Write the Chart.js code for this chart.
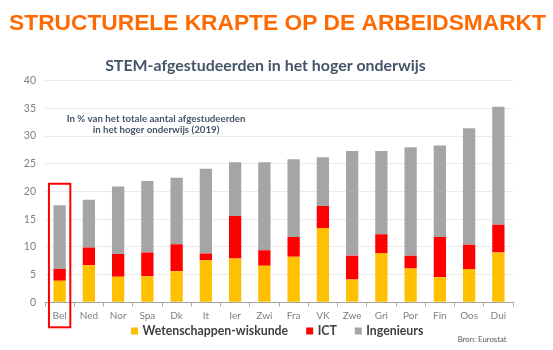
<!DOCTYPE html>
<html>
<head>
<meta charset="utf-8">
<script src="https://cdn.jsdelivr.net/npm/chart.js@4/dist/chart.umd.min.js"></script>
<style>
  html, body { margin: 0; padding: 0; background: #ffffff; }
  #wrap { position: relative; width: 553px; height: 350px; }
</style>
</head>
<body>
<div id="wrap"><canvas id="c" width="553" height="350"></canvas></div>
<script>
const mainTitle = 'STRUCTURELE KRAPTE OP DE ARBEIDSMARKT';
const chartTitle = 'STEM-afgestudeerden in het hoger onderwijs';
const noteLines = ['In % van het totale aantal afgestudeerden', 'in het hoger onderwijs (2019)'];
const sourceText = 'Bron: Eurostat';

const categories = ['Bel','Ned','Nor','Spa','Dk','It','Ier','Zwi','Fra','VK','Zwe','Gri','Por','Fin','Oos','Dui'];
const seriesNames = ['Wetenschappen-wiskunde', 'ICT', 'Ingenieurs'];
const wetenschappen = [3.9, 6.7, 4.6, 4.7, 5.6, 7.6, 7.9, 6.6, 8.2, 13.4, 4.1, 8.9, 6.1, 4.5, 6.0, 9.0];
const ict           = [2.1, 3.2, 4.1, 4.3, 4.9, 1.2, 7.7, 2.8, 3.6, 4.0, 4.3, 3.4, 2.3, 7.3, 4.4, 5.0];
const ingenieurs    = [11.5, 8.6, 12.2, 12.9, 12.0, 15.3, 9.7, 15.9, 14.0, 8.8, 18.9, 15.0, 19.6, 16.5, 21.0, 21.3];
const yMin = 0, yMax = 40, yStep = 5;
const highlightCategory = 'Bel';
const highlightTop = 21.4;

const colors = ['#FFC000', '#FF0000', '#A5A5A5'];

function fitSize(ctx, text, weight, family, target, guess) {
  ctx.font = weight + ' ' + guess + 'px ' + family;
  const w = ctx.measureText(text).width;
  return guess * target / w;
}

const textPlugin = {
  id: 'texts',
  afterDraw(chart) {
    const ctx = chart.ctx;
    ctx.save();
    // main orange header
    let s = fitSize(ctx, mainTitle, 'bold', '"Liberation Sans", Arial, sans-serif', 537, 22);
    ctx.font = 'bold ' + s + 'px "Liberation Sans", Arial, sans-serif';
    ctx.fillStyle = '#FF6A00';
    ctx.textAlign = 'center';
    ctx.textBaseline = 'alphabetic';
    ctx.fillText(mainTitle, 277.5, 30);

    // chart title
    s = fitSize(ctx, chartTitle, 'bold', 'Lato, sans-serif', 321, 14);
    ctx.font = 'bold ' + s + 'px Lato, sans-serif';
    ctx.fillStyle = '#44546A';
    ctx.fillText(chartTitle, 265.5, 70.7);

    // note
    s = fitSize(ctx, noteLines[0], 'bold', 'Lato, sans-serif', 179, 9);
    ctx.font = 'bold ' + s + 'px Lato, sans-serif';
    ctx.fillStyle = '#44546A';
    ctx.fillText(noteLines[0], 156, 122.3);
    ctx.fillText(noteLines[1], 156, 132.6);

    // legend
    s = fitSize(ctx, 'Ingenieurs', 'bold', 'Lato, sans-serif', 57, 13);
    ctx.font = 'bold ' + s + 'px Lato, sans-serif';
    ctx.textAlign = 'left';
    let x = 131;
    chart.data.datasets.forEach((ds, i) => {
      ctx.fillStyle = ds.backgroundColor;
      ctx.fillRect(x, 327.5, 7, 7);
      x += 7 + 4.5;
      ctx.fillStyle = '#404040';
      ctx.fillText(ds.label, x, 334.5);
      x += ctx.measureText(ds.label).width + 18;
    });

    // source
    s = fitSize(ctx, sourceText, 'normal', 'Lato, sans-serif', 49, 9);
    ctx.font = s + 'px Lato, sans-serif';
    ctx.fillStyle = '#595959';
    ctx.fillText(sourceText, 457.7, 342.3);

    // highlight box around Belgium
    const xs = chart.scales.x, ys = chart.scales.y;
    const idx = categories.indexOf(highlightCategory);
    const cx = xs.getPixelForValue(idx);
    const cw = (xs.right - xs.left) / categories.length;
    const left = cx - cw * 0.365, right = cx + cw * 0.365;
    const top = ys.getPixelForValue(highlightTop);
    const bottom = ys.bottom + 25;
    ctx.strokeStyle = '#FF0000';
    ctx.lineWidth = 2;
    ctx.strokeRect(left, top, right - left, bottom - top);
    ctx.restore();
  }
};

new Chart(document.getElementById('c'), {
  type: 'bar',
  data: {
    labels: categories,
    datasets: [
      { label: seriesNames[0], data: wetenschappen, backgroundColor: colors[0] },
      { label: seriesNames[1], data: ict, backgroundColor: colors[1] },
      { label: seriesNames[2], data: ingenieurs, backgroundColor: colors[2] }
    ]
  },
  options: {
    responsive: false,
    animation: false,
    devicePixelRatio: 1,
    layout: { padding: { left: 0, right: 40, top: 80.7, bottom: 27.7 } },
    datasets: { bar: { categoryPercentage: 1, barPercentage: 0.42, borderWidth: 0 } },
    plugins: {
      legend: { display: false },
      title: { display: false },
      tooltip: { enabled: false }
    },
    scales: {
      x: {
        stacked: true,
        afterFit(scale) { scale.height = 20; },
        grid: { offset: true, drawOnChartArea: false, drawTicks: true, tickLength: 4, color: '#A6A6A6' },
        border: { display: true, color: '#A6A6A6', width: 1 },
        ticks: { color: '#7F7F7F', font: { family: 'Lato, sans-serif', size: 10 }, padding: 3, maxRotation: 0, autoSkip: false }
      },
      y: {
        stacked: true,
        min: yMin, max: yMax,
        afterFit(scale) { scale.width = 45; },
        grid: { color: '#EBEBEB', drawTicks: false, lineWidth: 1 },
        border: { display: false },
        ticks: { stepSize: yStep, color: '#7F7F7F', font: { family: 'Lato, sans-serif', size: 10.5 }, padding: 9 }
      }
    }
  },
  plugins: [textPlugin]
});
</script>
</body>
</html>
